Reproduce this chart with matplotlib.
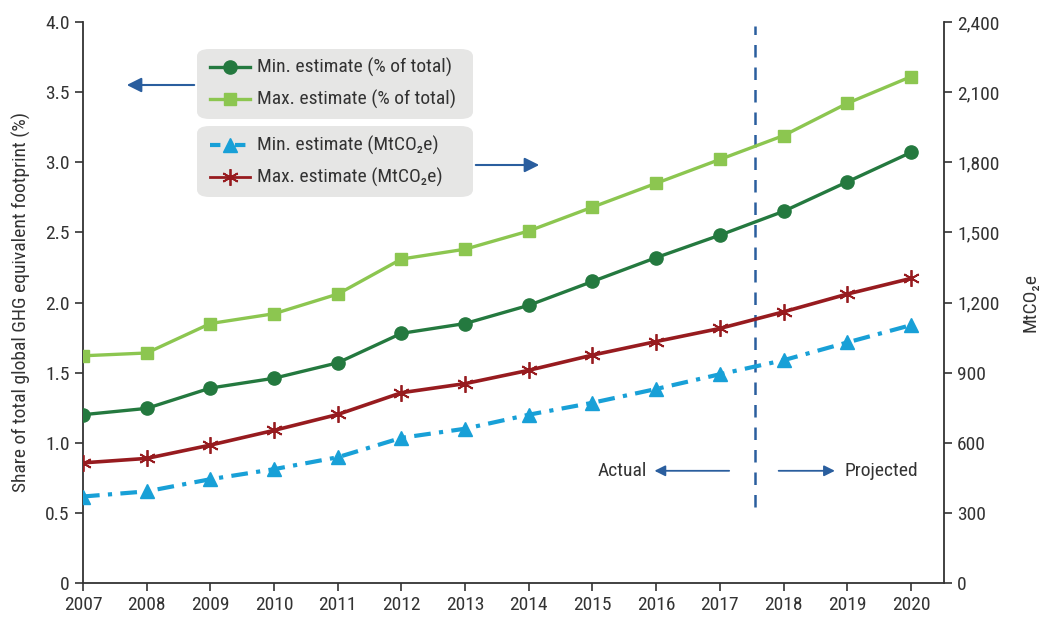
import matplotlib
matplotlib.use("Agg")
import matplotlib.pyplot as plt
from matplotlib.lines import Line2D
from matplotlib.ticker import FuncFormatter
from matplotlib.patches import FancyBboxPatch, FancyArrowPatch

FAM = ['Roboto Condensed', 'IBM Plex Sans Condensed', 'Open Sans Condensed', 'Liberation Sans', 'DejaVu Sans']
plt.rcParams['font.family'] = FAM

years = [2007, 2008, 2009, 2010, 2011, 2012, 2013, 2014, 2015, 2016, 2017, 2018, 2019, 2020]
min_pct = [1.20, 1.245, 1.39, 1.46, 1.57, 1.78, 1.85, 1.98, 2.15, 2.32, 2.48, 2.65, 2.86, 3.07]
max_pct = [1.62, 1.64, 1.85, 1.92, 2.06, 2.31, 2.38, 2.51, 2.68, 2.85, 3.02, 3.19, 3.42, 3.61]
min_mt = [370, 392, 444, 487, 538, 621, 660, 720, 771, 830, 893, 953, 1029, 1103]
max_mt = [514, 533, 590, 653, 721, 814, 853, 910, 975, 1033, 1089, 1160, 1236, 1303]
left_ticks = [0, 0.5, 1.0, 1.5, 2.0, 2.5, 3.0, 3.5, 4.0]
right_ticks = [0, 300, 600, 900, 1200, 1500, 1800, 2100, 2400]

c_dark = '#24793F'
c_light = '#8CC650'
c_red = '#971B1F'
c_blue = '#18A0D7'
c_arrow = '#2A5E9E'
c_axis = '#333333'
c_text = '#333333'
fs = 14

fig = plt.figure(figsize=(10.54, 6.17), dpi=100)
ax = fig.add_axes([83/1054, 1-583/617, (944-83)/1054, (583-22)/617])
ax2 = ax.twinx()

ax.plot(years, min_pct, color=c_dark, lw=2.4, marker='o', ms=9.5, zorder=4)
ax.plot(years, max_pct, color=c_light, lw=2.4, marker='s', ms=9, zorder=4)
ax2.plot(years, min_mt, color=c_blue, lw=3, ls=(0, (4, 2, 1, 2)), marker='^', ms=10.5, zorder=4)
ax2.plot(years, max_mt, color=c_red, lw=2.6, marker=(6, 2, 0), ms=12, mew=1.3, zorder=4)

ax.set_xlim(2007, 2020.52)
ax.set_ylim(0, 4.0)
ax2.set_ylim(0, 2400)
ax.set_xticks(years)
ax.set_yticks(left_ticks)
ax.yaxis.set_major_formatter(FuncFormatter(lambda v, p: '0' if v == 0 else f'{v:.1f}'))
ax2.set_yticks(right_ticks)
ax2.yaxis.set_major_formatter(FuncFormatter(lambda v, p: f'{int(v):,}'))

for a in (ax, ax2):
    a.spines['top'].set_visible(False)
    for s in a.spines.values():
        s.set_color(c_axis)
        s.set_linewidth(1.3)
    a.tick_params(direction='out', length=6, width=1.2, color=c_axis, labelsize=fs, labelcolor=c_text)
ax.spines['right'].set_visible(False)
ax2.spines['left'].set_visible(False)
ax2.spines['bottom'].set_visible(False)
ax.tick_params(axis='x', pad=3)

ax.set_ylabel('Share of total global GHG equivalent footprint (%)', fontsize=fs, color=c_text, labelpad=10)
ax2.set_ylabel('MtCO\u2082e', fontsize=fs, color=c_text, labelpad=16)

# Actual / projected divider
ax.plot([2017.55, 2017.55], [0.54, 3.97], color=c_arrow, lw=1.8, ls=(0, (5, 4)), zorder=3)
ax.annotate('', xy=(2015.93, 0.80), xytext=(2017.19, 0.80),
            arrowprops=dict(arrowstyle='-|>', color=c_arrow, lw=1.3, mutation_scale=16))
ax.annotate('', xy=(2018.85, 0.80), xytext=(2017.88, 0.80),
            arrowprops=dict(arrowstyle='-|>', color=c_arrow, lw=1.3, mutation_scale=16))
ax.text(2015.85, 0.80, 'Actual', ha='right', va='center', fontsize=fs, color=c_text)
ax.text(2018.95, 0.80, 'Projected', ha='left', va='center', fontsize=fs, color=c_text)

# legend boxes
W, H = 1054, 617
def fx(px): return px / W
def fy(py): return 1 - py / H
for (y0, y1) in [(49, 119), (126, 197)]:
    fig.patches.append(FancyBboxPatch((fx(197), fy(y1)), fx(473) - fx(197), fy(y0) - fy(y1),
                                      boxstyle='round,pad=0,rounding_size=0.012',
                                      transform=fig.transFigure, facecolor='#E6E6E5',
                                      edgecolor='none', zorder=1))

def leg_entry(ypx, color, marker, ms, ls, lw, label, mew=1.0):
    fig.add_artist(Line2D([fx(210), fx(250)], [fy(ypx)] * 2, color=color, lw=lw, ls=ls,
                          transform=fig.transFigure, zorder=2))
    fig.add_artist(Line2D([fx(230)], [fy(ypx)], color=color, marker=marker, ms=ms, mew=mew,
                          ls='none', transform=fig.transFigure, zorder=3))
    fig.text(fx(257), fy(ypx), label, fontsize=fs, color=c_text, va='center', ha='left', zorder=3)

leg_entry(67, c_dark, 'o', 9.5, '-', 2.4, 'Min. estimate (% of total)')
leg_entry(99, c_light, 's', 9, '-', 2.4, 'Max. estimate (% of total)')
leg_entry(145, c_blue, '^', 10.5, (0, (2.5, 3.5)), 3, 'Min. estimate (MtCO\u2082e)')
leg_entry(177, c_red, (6, 2, 0), 12, '-', 2.0, 'Max. estimate (MtCO\u2082e)', mew=1.3)

# side arrows
fig.add_artist(FancyArrowPatch((fx(197), fy(85)), (fx(124), fy(85)),
               transform=fig.transFigure, arrowstyle='-|>', color=c_arrow, lw=1.5, mutation_scale=22))
fig.add_artist(FancyArrowPatch((fx(473), fy(165)), (fx(542), fy(165)),
               transform=fig.transFigure, arrowstyle='-|>', color=c_arrow, lw=1.5, mutation_scale=22))

fig.savefig('out.png', dpi=100)
